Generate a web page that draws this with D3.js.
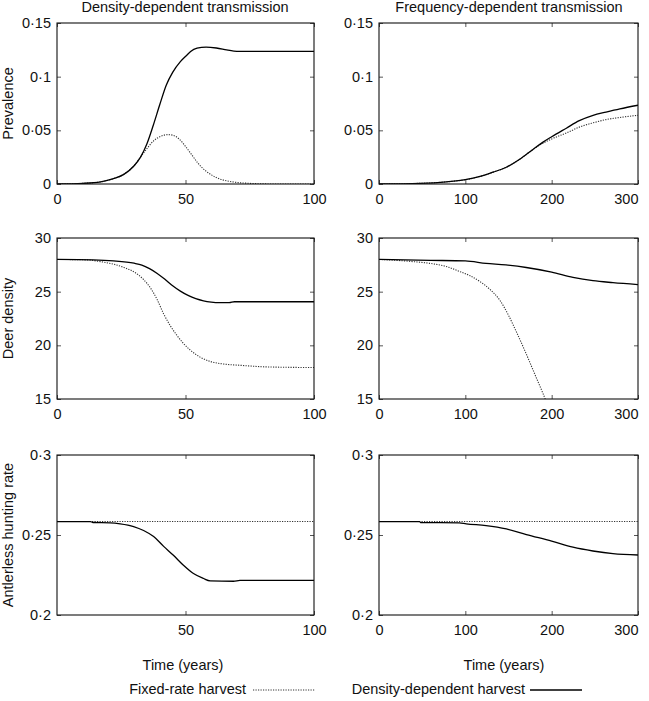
<!DOCTYPE html>
<html>
<head>
<meta charset="utf-8">
<script src="https://cdn.jsdelivr.net/npm/d3@7"></script>
<style>
  html, body { margin: 0; padding: 0; background: #fff; }
  svg { display: block; }
  text { font-family: "Liberation Sans", Arial, Helvetica, sans-serif; fill: #111; }
</style>
</head>
<body>
<svg id="chart" width="649" height="701"></svg>
<script>
// ---------------- DATA ----------------
const columnTitles = ["Density-dependent transmission", "Frequency-dependent transmission"];
const rowLabels = ["Prevalence", "Deer density", "Antlerless hunting rate"];
const xAxisLabel = "Time (years)";
const legendLabels = ["Fixed-rate harvest", "Density-dependent harvest"];

const xDomains = [[0, 100], [0, 300]];
const xTicksLeft = [0, 50, 100];
const xTicksLeftBottom = [50, 100];
const xTicksRight = [0, 100, 200, 300];

const yDomains = [[0, 0.15], [15, 30], [0.2, 0.3]];
const yTicksPrevalence = [0, 0.05, 0.1, 0.15];
const yTicksDensity = [15, 20, 25, 30];
const yTicksRate = [0.2, 0.25, 0.3];

// Density-dependent transmission: prevalence
const ddPrevalenceFixed = [[0,0],[10,0.0006],[17,0.002],[22,0.005],[26,0.009],[30,0.017],[32.5,0.025],[35,0.033],[37.5,0.040],[40,0.044],[43,0.046],[45,0.0455],[47.5,0.042],[50,0.035],[52.5,0.027],[55,0.019],[58,0.012],[62,0.006],[67,0.0025],[75,0.0006],[85,0],[100,0]];
const ddPrevalenceDensity = [[0,0],[10,0.0006],[17,0.002],[22,0.005],[26,0.009],[30,0.017],[32.5,0.025],[35,0.0375],[37.5,0.055],[40,0.074],[42.5,0.092],[45,0.104],[48,0.114],[50.5,0.120],[52,0.1235],[54.5,0.1265],[58,0.1275],[62,0.1267],[66,0.125],[70,0.1235],[100,0.1235]];
// Frequency-dependent transmission: prevalence
const fdPrevalenceFixed = [[0,0],[47,0.0006],[78,0.002],[100,0.004],[117,0.007],[132,0.011],[147.5,0.0156],[163,0.023],[178,0.032],[190,0.038],[200,0.042],[217,0.0475],[232,0.053],[248,0.057],[263,0.060],[279,0.062],[300,0.064]];
const fdPrevalenceDensity = [[0,0],[47,0.0006],[78,0.002],[100,0.004],[117,0.007],[132,0.011],[147.5,0.0156],[163,0.023],[178,0.032],[190,0.039],[200,0.044],[217,0.052],[232,0.059],[248,0.064],[263,0.067],[279,0.070],[300,0.0734]];
// Deer density
const ddDensityFixed = [[0,28],[11.7,27.96],[16.8,27.8],[22,27.56],[26,27.26],[30,26.83],[33.7,26.13],[36.3,25.37],[38.9,24.3],[41.5,22.93],[44,21.86],[46.6,20.95],[49.2,20.18],[51.8,19.57],[55.7,18.9],[59.6,18.5],[64.8,18.26],[71.2,18.14],[81.6,17.99],[100,17.93]];
const ddDensityDensity = [[0,28],[14,27.96],[22,27.87],[30,27.65],[33,27.48],[36,27.15],[39,26.7],[42,26.15],[45,25.55],[48,25.05],[51,24.65],[54,24.35],[57,24.15],[60,24.03],[63,23.97],[67,23.97],[69,24.06],[100,24.06]];
const fdDensityFixed = [[0,28],[20,27.92],[39.4,27.8],[58.7,27.64],[78,27.34],[93.4,26.88],[105,26.5],[116.6,25.96],[128,25.25],[140,24.2],[150,22.8],[160,21.1],[170,19.3],[180,17.4],[190,15.5],[193,14.9]];
const fdDensityDensity = [[0,28.01],[60,27.92],[100,27.86],[124,27.64],[147,27.49],[170.6,27.25],[200,26.82],[224.7,26.33],[247.8,26.02],[271,25.84],[300,25.66]];
// Antlerless hunting rate
const ddRateFixed = [[0,0.2584],[100,0.2584]];
const ddRateDensity = [[0,0.2584],[13,0.2584],[14,0.2578],[20.7,0.2576],[24.6,0.257],[29.8,0.2553],[33.7,0.2528],[37.6,0.249],[41.5,0.2429],[45.3,0.2373],[49.2,0.2311],[53.1,0.2259],[57,0.2228],[59.6,0.2213],[68.7,0.2211],[71.2,0.2217],[100,0.2217]];
const fdRateFixed = [[0,0.2584],[300,0.2584]];
const fdRateDensity = [[0,0.2584],[47,0.2584],[48,0.2578],[93,0.2576],[101,0.257],[124,0.2559],[147.5,0.2538],[170.7,0.2503],[200,0.2462],[224.7,0.2424],[247.8,0.24],[271,0.2383],[300,0.2375]];

// ---------------- LAYOUT ----------------
const cols = [{x0: 57, x1: 314}, {x0: 379, x1: 638}];
const rows = [{y0: 23, y1: 184}, {y0: 238, y1: 399}, {y0: 455, y1: 615}];
const fontSize = 14.5;

const panels = [
  {r:0, c:0, fixed: ddPrevalenceFixed, dens: ddPrevalenceDensity, xt: xTicksLeft, yt: yTicksPrevalence},
  {r:0, c:1, fixed: fdPrevalenceFixed, dens: fdPrevalenceDensity, xt: xTicksRight, yt: yTicksPrevalence},
  {r:1, c:0, fixed: ddDensityFixed, dens: ddDensityDensity, xt: xTicksLeft, yt: yTicksDensity},
  {r:1, c:1, fixed: fdDensityFixed, dens: fdDensityDensity, xt: xTicksRight, yt: yTicksDensity},
  {r:2, c:0, fixed: ddRateFixed, dens: ddRateDensity, xt: xTicksLeftBottom, yt: yTicksRate},
  {r:2, c:1, fixed: fdRateFixed, dens: fdRateDensity, xt: xTicksRight, yt: yTicksRate}
];

const fmt = v => String(+v.toFixed(4)).replace(".", "\u00B7");

const svg = d3.select("#chart");
const defs = svg.append("defs");

panels.forEach((p, i) => {
  const col = cols[p.c], row = rows[p.r];
  const x = d3.scaleLinear().domain(xDomains[p.c]).range([col.x0, col.x1]);
  const y = d3.scaleLinear().domain(yDomains[p.r]).range([row.y1, row.y0]);
  const g = svg.append("g");

  defs.append("clipPath").attr("id", "clip" + i)
    .append("rect").attr("x", col.x0).attr("y", row.y0)
    .attr("width", col.x1 - col.x0).attr("height", row.y1 - row.y0);

  const ax = g.append("g").attr("transform", `translate(0,${row.y1})`)
    .call(d3.axisBottom(x).tickValues(p.xt).tickSize(-4).tickPadding(10).tickFormat(fmt));
  const ay = g.append("g").attr("transform", `translate(${col.x0},0)`)
    .call(d3.axisLeft(y).tickValues(p.yt).tickSize(-4).tickPadding(6).tickFormat(fmt));
  const at = g.append("g").attr("transform", `translate(0,${row.y0})`)
    .call(d3.axisTop(x).tickValues(p.xt).tickSize(-4).tickFormat(""));
  const ar = g.append("g").attr("transform", `translate(${col.x1},0)`)
    .call(d3.axisRight(y).tickValues(p.yt).tickSize(-4).tickFormat(""));

  [ax, ay, at, ar].forEach(a => {
    a.select(".domain").remove();
    a.selectAll(".tick line").attr("stroke", "#555").attr("stroke-width", 1);
    a.selectAll(".tick text").attr("font-size", fontSize)
      .attr("font-family", '"Liberation Sans", Arial, sans-serif').attr("fill", "#111");
  });
  if (p.c === 1) {
    ax.selectAll(".tick").filter(d => d === 300).select("text").attr("text-anchor", "end").attr("x", 0);
  }

  const line = d3.line().x(d => x(d[0])).y(d => y(d[1])).curve(d3.curveMonotoneX);
  const lg = g.append("g").attr("clip-path", `url(#clip${i})`);
  lg.append("path").datum(p.fixed).attr("d", line)
    .attr("fill", "none").attr("stroke", "#333").attr("stroke-width", 1.1)
    .attr("stroke-dasharray", "1.2,1.3");
  lg.append("path").datum(p.dens).attr("d", line)
    .attr("fill", "none").attr("stroke", "#000").attr("stroke-width", 1.3);

  g.append("rect").attr("x", col.x0).attr("y", row.y0)
    .attr("width", col.x1 - col.x0).attr("height", row.y1 - row.y0)
    .attr("fill", "none").attr("stroke", "#111").attr("stroke-width", 1.1);
});

const titleX = [185, 509];
columnTitles.forEach((t, c) => {
  svg.append("text").attr("x", titleX[c]).attr("y", 12).attr("text-anchor", "middle")
    .attr("font-size", fontSize).text(t);
});

rowLabels.forEach((t, r) => {
  const cy = (rows[r].y0 + rows[r].y1) / 2;
  svg.append("text").attr("transform", `translate(13,${cy}) rotate(-90)`)
    .attr("text-anchor", "middle").attr("font-size", fontSize).text(t);
});

const timeX = [183, 504];
timeX.forEach(cx => {
  svg.append("text").attr("x", cx).attr("y", 670).attr("text-anchor", "middle")
    .attr("font-size", fontSize).text(xAxisLabel);
});

const leg = svg.append("g");
leg.append("text").attr("x", 246).attr("y", 694).attr("text-anchor", "end")
  .attr("font-size", fontSize).text(legendLabels[0]);
leg.append("line").attr("x1", 253).attr("x2", 315).attr("y1", 690).attr("y2", 690)
  .attr("stroke", "#333").attr("stroke-width", 1.1).attr("stroke-dasharray", "1.2,1.3");
leg.append("text").attr("x", 525).attr("y", 694).attr("text-anchor", "end")
  .attr("font-size", fontSize).text(legendLabels[1]);
leg.append("line").attr("x1", 530).attr("x2", 582).attr("y1", 690).attr("y2", 690)
  .attr("stroke", "#000").attr("stroke-width", 1.3);
</script>
</body>
</html>
